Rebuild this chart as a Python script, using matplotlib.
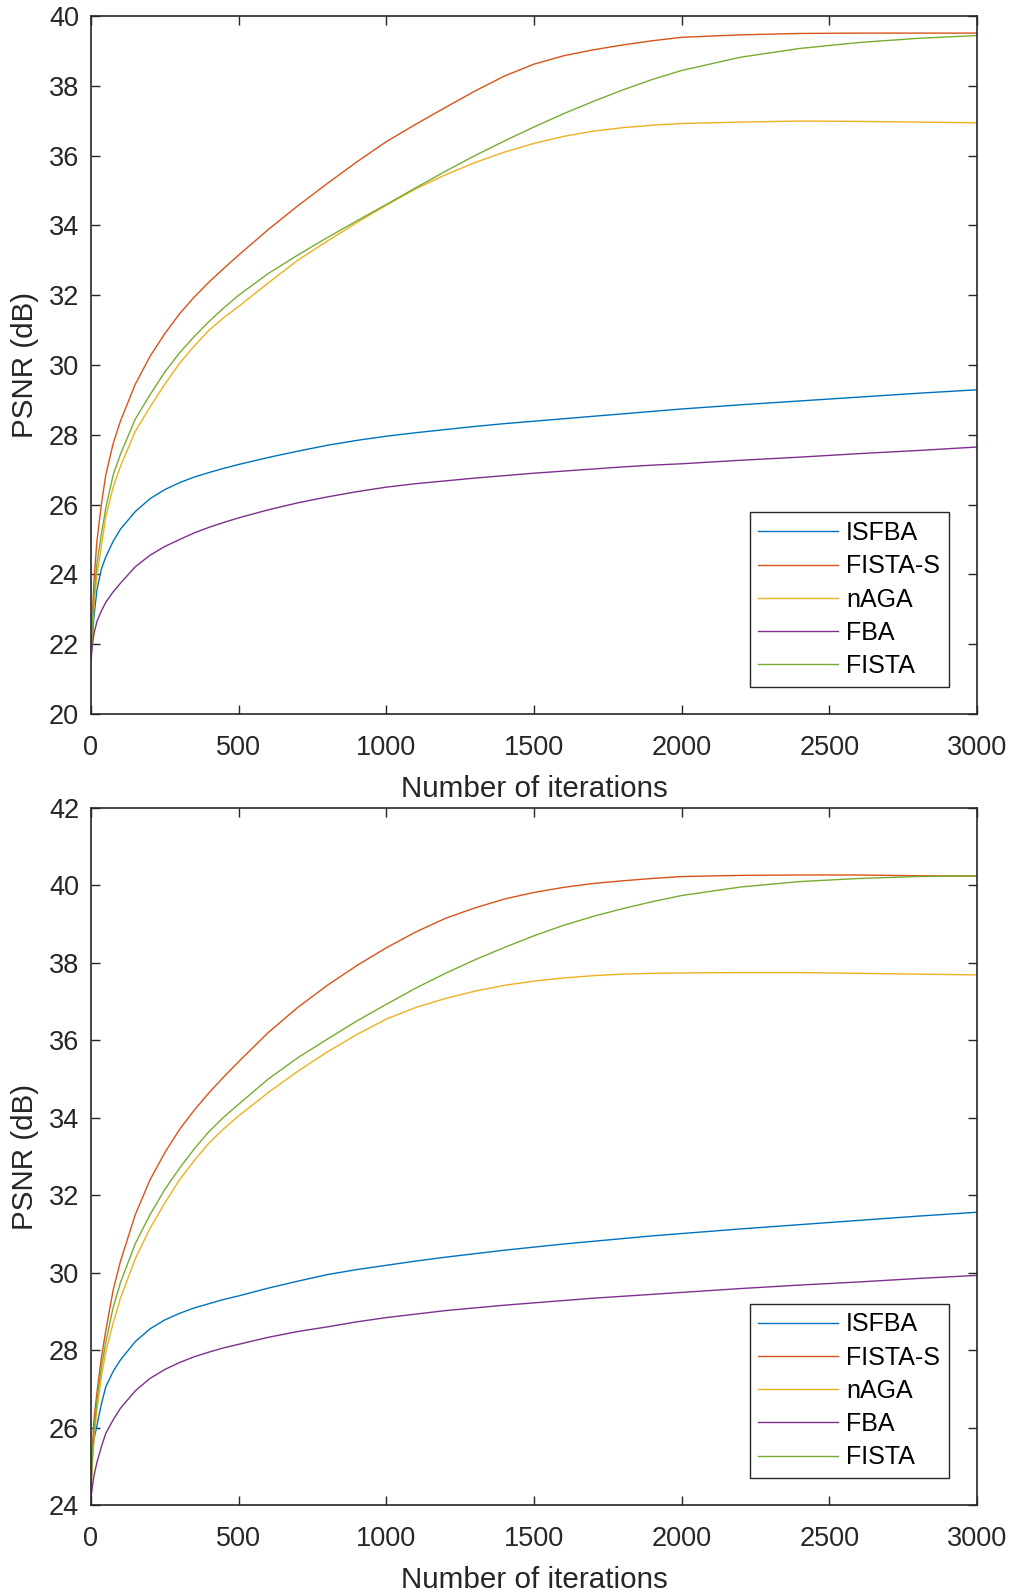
import matplotlib
matplotlib.use("Agg")
import matplotlib.pyplot as plt

plt.rcParams['font.family'] = ['Liberation Sans', 'DejaVu Sans']

iterations = [0, 5, 10, 20, 35, 50, 75, 100, 150, 200, 250, 300, 350, 400, 450, 500,
              600, 700, 800, 900, 1000, 1100, 1200, 1300, 1400, 1500, 1600, 1700, 1800,
              1900, 2000, 2200, 2400, 2600, 2800, 3000]
labels = ["ISFBA", "FISTA-S", "nAGA", "FBA", "FISTA"]

# Top panel
top_isfba = [21.75, 22.2, 22.8, 23.55, 24.15, 24.5, 24.95, 25.3, 25.8, 26.17, 26.43, 26.63,
             26.79, 26.92, 27.04, 27.15, 27.35, 27.53, 27.70, 27.84, 27.96, 28.06, 28.15,
             28.24, 28.32, 28.39, 28.46, 28.53, 28.6, 28.67, 28.74, 28.86, 28.97, 29.08,
             29.19, 29.29]
top_fista_s = [21.6, 22.9, 23.8, 24.95, 26.0, 26.85, 27.75, 28.4, 29.45, 30.25, 30.9, 31.47,
               31.95, 32.38, 32.77, 33.15, 33.88, 34.56, 35.2, 35.82, 36.4, 36.9, 37.38,
               37.85, 38.28, 38.62, 38.86, 39.03, 39.17, 39.29, 39.39, 39.46, 39.5, 39.51,
               39.51, 39.51]
top_naga = [21.5, 22.4, 23.1, 23.95, 24.8, 25.65, 26.5, 27.1, 28.1, 28.8, 29.45, 30.05,
            30.55, 31.0, 31.36, 31.68, 32.35, 33.0, 33.55, 34.08, 34.58, 35.05, 35.45,
            35.8, 36.1, 36.35, 36.55, 36.7, 36.8, 36.87, 36.92, 36.96, 36.99, 36.98,
            36.96, 36.94]
top_fba = [21.56, 22.0, 22.3, 22.65, 22.95, 23.2, 23.5, 23.75, 24.22, 24.55, 24.8, 25.0,
           25.19, 25.35, 25.49, 25.62, 25.85, 26.05, 26.22, 26.37, 26.5, 26.6, 26.68,
           26.76, 26.83, 26.9, 26.96, 27.02, 27.08, 27.13, 27.17, 27.27, 27.36, 27.46,
           27.55, 27.65]
top_fista = [21.6, 22.6, 23.4, 24.3, 25.15, 25.9, 26.85, 27.45, 28.45, 29.15, 29.8, 30.35,
             30.82, 31.25, 31.64, 32.0, 32.62, 33.15, 33.65, 34.13, 34.6, 35.08, 35.55,
             36.0, 36.42, 36.82, 37.2, 37.55, 37.88, 38.18, 38.44, 38.82, 39.07, 39.24,
             39.36, 39.44]

# Bottom panel
bot_isfba = [24.6, 25.3, 25.7, 26.05, 26.6, 27.05, 27.45, 27.75, 28.22, 28.55, 28.78, 28.95,
             29.09, 29.2, 29.31, 29.4, 29.6, 29.78, 29.95, 30.08, 30.19, 30.3, 30.4,
             30.49, 30.58, 30.66, 30.74, 30.81, 30.88, 30.95, 31.01, 31.13, 31.24, 31.35,
             31.46, 31.56]
bot_fista_s = [24.5, 25.5, 26.2, 26.9, 27.8, 28.5, 29.55, 30.3, 31.5, 32.4, 33.1, 33.7,
               34.2, 34.65, 35.06, 35.45, 36.2, 36.85, 37.42, 37.93, 38.39, 38.8, 39.15,
               39.42, 39.65, 39.82, 39.95, 40.05, 40.12, 40.18, 40.23, 40.26, 40.27, 40.27,
               40.25, 40.24]
bot_naga = [24.3, 25.1, 25.7, 26.45, 27.3, 27.95, 28.7, 29.35, 30.36, 31.15, 31.8, 32.4,
            32.9, 33.35, 33.72, 34.05, 34.65, 35.2, 35.7, 36.15, 36.55, 36.85, 37.08,
            37.27, 37.42, 37.53, 37.61, 37.67, 37.71, 37.73, 37.74, 37.75, 37.75, 37.73,
            37.71, 37.69]
bot_fba = [24.18, 24.5, 24.75, 25.1, 25.5, 25.85, 26.2, 26.5, 26.95, 27.27, 27.5, 27.68,
           27.83, 27.95, 28.06, 28.15, 28.33, 28.48, 28.6, 28.73, 28.84, 28.93, 29.02,
           29.09, 29.16, 29.22, 29.28, 29.34, 29.39, 29.44, 29.49, 29.59, 29.68, 29.76,
           29.85, 29.93]
bot_fista = [24.4, 25.3, 25.9, 26.7, 27.55, 28.2, 29.1, 29.75, 30.75, 31.5, 32.15, 32.7,
             33.2, 33.65, 34.02, 34.35, 35.0, 35.55, 36.03, 36.5, 36.93, 37.35, 37.73,
             38.08, 38.4, 38.7, 38.97, 39.2, 39.4, 39.58, 39.74, 39.96, 40.1, 40.18,
             40.23, 40.25]

colors = ["#0072BD", "#D95319", "#EDB120", "#7E2F8E", "#77AC30"]
axcol = "#262626"

fig = plt.figure(figsize=(10.11, 15.95), dpi=100)
ax1 = fig.add_axes([91/1011, 1 - 714/1595, 886/1011, 698/1595])
ax2 = fig.add_axes([91/1011, 1 - 1505/1595, 886/1011, 697/1595])

panels = [
    (ax1, [top_isfba, top_fista_s, top_naga, top_fba, top_fista], (20, 40)),
    (ax2, [bot_isfba, bot_fista_s, bot_naga, bot_fba, bot_fista], (24, 42)),
]

for ax, series, ylim in panels:
    for s, c, lab in zip(series, colors, labels):
        ax.plot(iterations, s, color=c, lw=1.0, label=lab)
    ax.set_xlim(0, 3000)
    ax.set_ylim(*ylim)
    ax.set_xticks(range(0, 3001, 500))
    ax.set_yticks(range(ylim[0], ylim[1] + 1, 2))
    ax.tick_params(direction='in', length=6.5, width=1.0, colors=axcol,
                   labelsize=19.5, top=True, right=True)
    ax.tick_params(axis='x', pad=15)
    ax.tick_params(axis='y', pad=8.5)
    for sp in ax.spines.values():
        sp.set_color(axcol)
        sp.set_linewidth(1.2)
    ax.set_xlabel("Number of iterations", fontsize=21.3, color=axcol, labelpad=10)
    ax.set_ylabel("PSNR (dB)", fontsize=21.3, color=axcol, labelpad=7)
    leg = ax.legend(loc='lower right', bbox_to_anchor=(0.968, 0.0387), fontsize=18,
                    handlelength=3.2, handletextpad=0.3, labelspacing=0.37,
                    borderpad=0.35, borderaxespad=0, fancybox=False, framealpha=1,
                    edgecolor=axcol)
    leg.get_frame().set_linewidth(1.0)
    for t in leg.get_texts():
        t.set_color('black')

fig.savefig("out.png", dpi=100)
